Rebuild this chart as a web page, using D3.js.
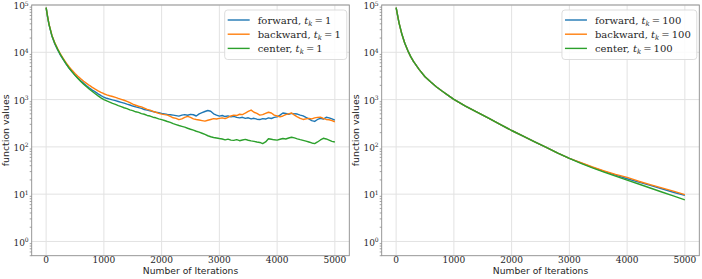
<!DOCTYPE html>
<html><head><meta charset="utf-8">
<script src="https://cdn.jsdelivr.net/npm/d3@7"></script>
<style>
html,body{margin:0;padding:0;background:#fff;}
svg{display:block;}
</style></head>
<body>
<svg id="c" width="702" height="279"></svg>
<script>
// ---------- DATA ----------
const xTicks = [0, 1000, 2000, 3000, 4000, 5000];
const yTicks = [1, 10, 100, 1000, 10000, 100000];
const yTickExp = ["0", "1", "2", "3", "4", "5"];
const seriesNames = ["forward", "backward", "center"];
const leftTk = "1";
const rightTk = "100";

// left panel (t_k = 1): iteration grid
const leftIters = [0, 25].concat(d3.range(50, 5001, 50));
const leftForward = [88000,55500,38000,22000,15000,11200,8600,6900,5550,4600,3880,3300,2860,2500,2200,1960,1760,1590,1450,1320,1210,1120,
1065,1025,985,950,912,876,842,800,768,730,702,675,650,618,600,577,560,541,530,512,500,488,478,468,458,448,468,480,466,488,478,450,498,528,560,588,568,500,470,448,460,438,452,430,442,420,410,422,400,412,390,402,385,378,395,388,410,398,420,432,470,522,508,490,512,500,494,470,452,420,392,360,345,380,402,388,422,410,390,368];
const leftBackward = [88000,57500,39500,23000,15800,11800,9100,7300,5900,4900,4150,3580,3130,2760,2450,2200,1990,1810,1660,1530,1420,1330,
1260,1205,1160,1115,1060,1012,968,920,862,802,760,722,700,660,622,600,562,540,512,492,480,470,440,412,400,376,390,420,440,420,392,380,370,360,350,365,380,395,388,400,410,395,420,450,470,460,490,480,520,560,600,540,510,470,480,510,540,520,470,450,430,450,480,500,520,470,430,400,380,390,400,390,410,420,425,400,380,375,360,340];
const leftCenter = [88000,57000,39000,22500,15500,11500,8800,7000,5600,4600,3850,3250,2800,2420,2110,1860,1650,1480,1330,1200,1090,1000,
935,885,830,792,748,712,672,645,607,585,552,536,505,490,462,449,424,412,390,377,361,344,330,310,296,283,272,262,248,236,226,214,205,194,183,172,164,158,154,150,147,141,146,139,137,142,135,140,144,138,134,131,127,124,117,127,149,145,141,139,145,150,147,154,160,155,148,142,137,132,127,121,117,127,140,152,147,139,131,127];

// right panel (t_k = 100)
const rightIters = [0,25,50,100,150,200,250,300,400,500,600,700,800,900,1000,1200,1400,1600,1800,2000,2200,2400,2600,2800,3000,3200,3400,3600,3800,4000,4200,4400,4600,4800,5000];
const rightForward = [88000,60000,42000,24000,15500,11000,8200,6400,4300,3050,2350,1850,1500,1230,1010,730,540,405,300,222,168,128,98,74,57,45.8,37,30.3,25.2,21.2,18,15.3,13,11,9.4];
const rightBackward = [88000,60000,42000,24000,15500,11000,8200,6400,4300,3050,2350,1850,1500,1230,1010,730,540,405,300,222,168,128,98,74,57,46.3,37.6,31.2,26.2,22.6,18.8,15.9,13.6,11.6,9.8];
const rightCenter = [88000,60000,42000,24000,15500,11000,8200,6400,4300,3050,2350,1850,1500,1230,1010,730,540,405,300,222,168,128,98,74,57,45,36,29.3,24,19.8,16.4,13.5,11.1,9.2,7.6];

// ---------- DRAW ----------
const colors = ["#1f77b4", "#ff7f0e", "#2ca02c"];
const svg = d3.select("#c");
const plotTop = 5, plotBottom = 255.7;

function panel(x0, x1, iters, data, tk, idx) {
  const x = d3.scaleLinear().domain([-250, 5250]).range([x0, x1]);
  const y = d3.scaleLog().domain([0.5, 1e5]).range([plotBottom, plotTop]);
  const g = svg.append("g");
  const clipId = "clip" + idx;
  svg.append("clipPath").attr("id", clipId).append("rect")
    .attr("x", x0).attr("y", plotTop).attr("width", x1 - x0).attr("height", plotBottom - plotTop);

  // grid
  g.selectAll(".gx").data(xTicks).enter().append("line")
    .attr("x1", d => x(d)).attr("x2", d => x(d)).attr("y1", plotTop).attr("y2", plotBottom)
    .attr("stroke", "#e2e2e2").attr("stroke-width", 1);
  g.selectAll(".gy").data(yTicks).enter().append("line")
    .attr("x1", x0).attr("x2", x1).attr("y1", d => y(d)).attr("y2", d => y(d))
    .attr("stroke", "#e2e2e2").attr("stroke-width", 1);

  // minor y ticks
  const minors = [];
  [0.1, 1, 10, 100, 1000, 10000].forEach(b => { for (let m = 2; m <= 9; m++) { const v = b * m; if (v >= 0.5 && v <= 1e5) minors.push(v); } });
  g.selectAll(".my").data(minors).enter().append("line")
    .attr("x1", x0 - 2).attr("x2", x0).attr("y1", d => y(d)).attr("y2", d => y(d))
    .attr("stroke", "#666").attr("stroke-width", 0.6);

  // lines
  const line = d3.line().x((d, i) => x(iters[i])).y(d => y(d));
  const lg = g.append("g").attr("clip-path", `url(#${clipId})`);
  data.forEach((s, k) => {
    lg.append("path").attr("d", line(s)).attr("fill", "none")
      .attr("stroke", colors[k]).attr("stroke-width", 1.4).attr("stroke-linejoin", "round");
  });

  // spines
  g.append("rect").attr("x", x0).attr("y", plotTop).attr("width", x1 - x0).attr("height", plotBottom - plotTop)
    .attr("fill", "none").attr("stroke", "#8c8c8c").attr("stroke-width", 0.9);

  // x tick labels
  g.selectAll(".xt").data(xTicks).enter().append("text")
    .attr("x", d => x(d)).attr("y", 263).attr("text-anchor", "middle")
    .attr("font-family", "DejaVu Serif").attr("font-size", 9).attr("fill", "#262626")
    .text(d => d);
  // y tick labels
  yTicks.forEach((v, i) => {
    const t = g.append("text").attr("x", x0 - 3).attr("y", y(v) + 4.2).attr("text-anchor", "end")
      .attr("font-family", "DejaVu Serif").attr("font-size", 9).attr("fill", "#262626");
    t.append("tspan").text("10");
    t.append("tspan").attr("dy", -3.6).attr("font-size", 6).text(yTickExp[i]);
  });

  // axis labels
  g.append("text").attr("x", (x0 + x1) / 2).attr("y", 274).attr("text-anchor", "middle")
    .attr("font-family", "DejaVu Sans").attr("font-size", 9.2).attr("fill", "#262626")
    .text("Number of Iterations");
  g.append("text").attr("transform", `translate(${x0 - 22.5},${(plotTop + plotBottom) / 2}) rotate(-90)`)
    .attr("text-anchor", "middle")
    .attr("font-family", "DejaVu Sans").attr("font-size", 9.4).attr("fill", "#262626")
    .text("function values");

  // legend
  const leg = g.append("g");
  const box = leg.append("rect").attr("rx", 3).attr("ry", 3)
    .attr("fill", "#fff").attr("fill-opacity", 0.85).attr("stroke", "#d9d9d9").attr("stroke-width", 0.9);
  const texts = [];
  seriesNames.forEach((nm, k) => {
    const yy = 20 + k * 14.2;
    leg.append("line").attr("stroke", colors[k]).attr("stroke-width", 1.4)
      .attr("class", "h").attr("y1", yy).attr("y2", yy);
    const t = leg.append("text").attr("y", yy + 3.5)
      .attr("font-family", "DejaVu Serif").attr("font-size", 10).attr("fill", "#262626");
    t.append("tspan").text(nm + ", ");
    t.append("tspan").attr("font-style", "italic").text("t");
    t.append("tspan").attr("font-style", "italic").attr("font-size", 7).attr("dy", 2.2).text("k");
    t.append("tspan").attr("dy", -2.2).text("\u2009=\u2009" + tk);
    texts.push(t);
  });
  const tw = d3.max(texts, t => t.node().getComputedTextLength());
  const bw = 33 + tw + 6;
  const bx = x1 - 2.5 - bw;
  box.attr("x", bx).attr("y", 10).attr("width", bw).attr("height", 49.5);
  leg.selectAll("line.h").attr("x1", bx + 3).attr("x2", bx + 25);
  texts.forEach(t => t.attr("x", bx + 33));
}

panel(31.7, 349.3, leftIters, [leftForward, leftBackward, leftCenter], leftTk, 0);
panel(381.7, 699.3, rightIters, [rightForward, rightBackward, rightCenter], rightTk, 1);
</script>
</body></html>
